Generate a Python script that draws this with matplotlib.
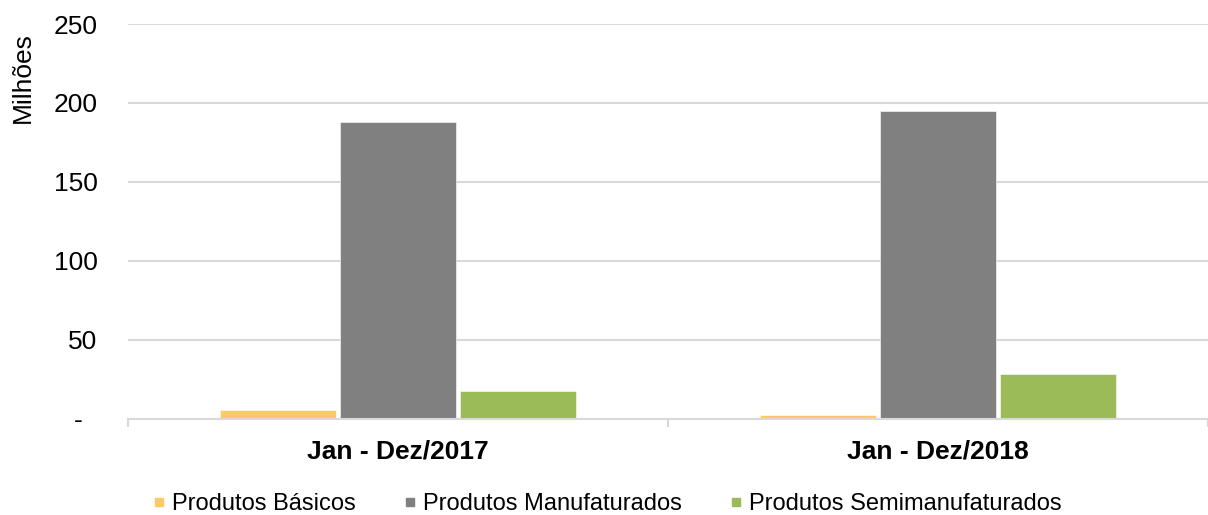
import matplotlib
matplotlib.use("Agg")
import matplotlib.pyplot as plt
from matplotlib.lines import Line2D
from matplotlib.ticker import FuncFormatter, FixedLocator
import numpy as np

plt.rcParams['font.family'] = ['Liberation Sans', 'DejaVu Sans']

categories = ["Jan - Dez/2017", "Jan - Dez/2018"]
series_names = ["Produtos Básicos", "Produtos Manufaturados", "Produtos Semimanufaturados"]
basicos = [5.4, 2.0]
manufaturados = [188.1, 194.7]
semimanufaturados = [17.4, 28.2]
colors = ["#FFCA66", "#808080", "#9BBB59"]
yticks = [0, 50, 100, 150, 200, 250]

fig = plt.figure(figsize=(12.08, 5.15), dpi=100)
ax = fig.add_axes([128/1208, 1 - 418.5/515, 1 - 128/1208, (418.5 - 24)/515])

x = np.arange(len(categories))
width = 0.215
step = 0.222
for i, (vals, c) in enumerate(zip([basicos, manufaturados, semimanufaturados], colors)):
    ax.bar(x + (i - 1) * step, vals, width=width, color=c, zorder=3,
           edgecolor='white', linewidth=0.4)

ax.set_xlim(-0.5, 1.5)
ax.set_ylim(0, 250)
ax.set_yticks(yticks)
ax.yaxis.set_major_formatter(FuncFormatter(lambda v, p: "-  " if v == 0 else f"{int(v)}"))
ax.grid(axis='y', color='#D9D9D9', linewidth=1.5, zorder=0)
ax.set_axisbelow(True)

for s in ['top', 'right', 'left']:
    ax.spines[s].set_visible(False)
ax.spines['bottom'].set_color('#D9D9D9')
ax.spines['bottom'].set_linewidth(1.5)
ax.spines['bottom'].set_zorder(4)

ax.set_xticks(x)
ax.set_xticklabels(categories, fontweight='bold', fontsize=19)
ax.xaxis.set_minor_locator(FixedLocator([-0.5, 0.5, 1.5]))
ax.tick_params(axis='x', which='major', length=0, pad=15)
ax.tick_params(axis='x', which='minor', length=6, width=1.5, color='#D9D9D9')
ax.tick_params(axis='y', length=0, pad=22, labelsize=19)

fig.text(23/1208, 1 - 78/515, "Milhões", rotation=90, ha='center', va='center', fontsize=19)

handles = [Line2D([], [], linestyle='none', marker='s', markersize=5.6,
                  markerfacecolor=c, markeredgecolor=c) for c in colors]
fig.legend(handles, series_names, loc='center', bbox_to_anchor=(607/1208, 1 - 504/515),
           ncol=3, frameon=False, fontsize=17, handlelength=0.6, handletextpad=0.25,
           columnspacing=2.0, borderaxespad=0)

fig.savefig("out.png", dpi=100)
